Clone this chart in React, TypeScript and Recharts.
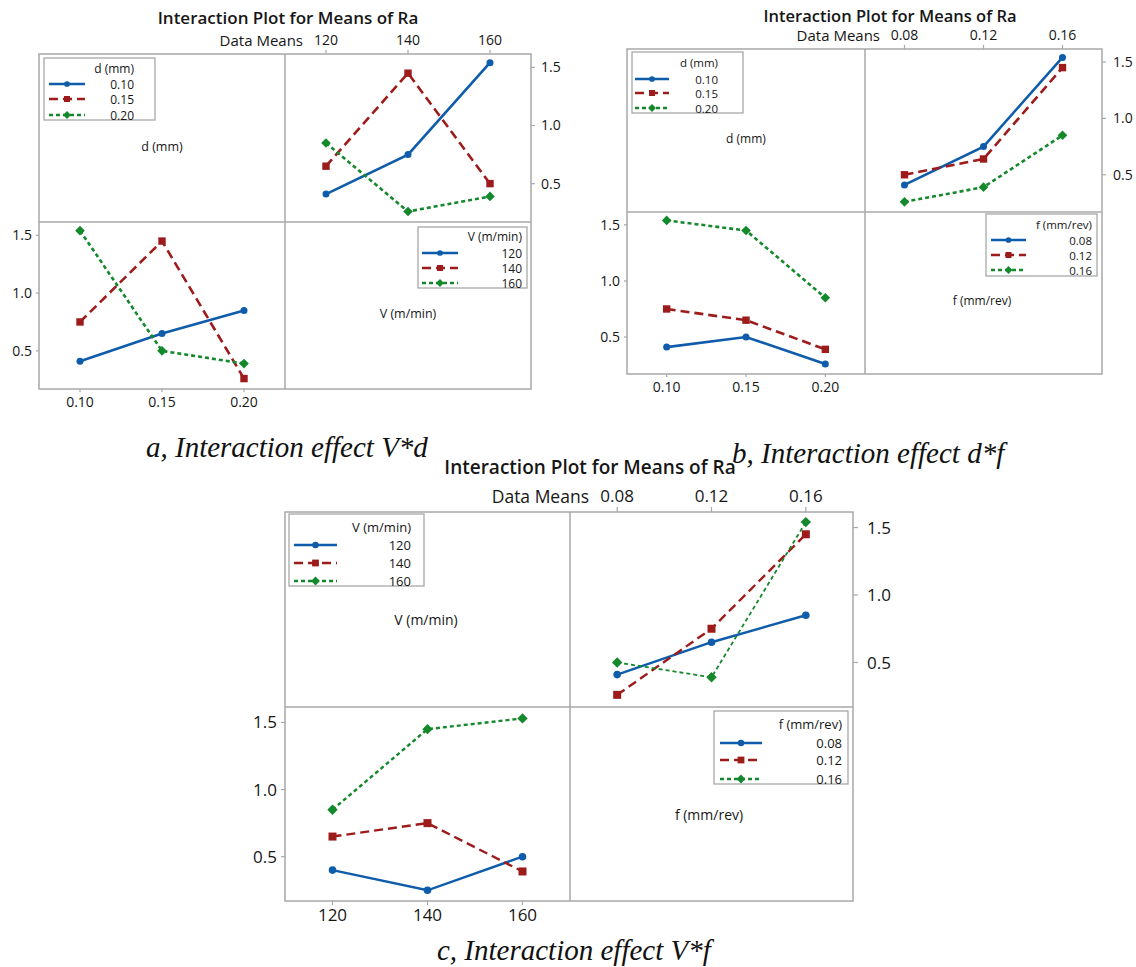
import React from 'react';
import { LineChart, Line, XAxis, YAxis } from 'recharts';

// ---------- factor levels & tick labels ----------
const V_LEVELS = [120, 140, 160];
const D_LEVELS = [0.1, 0.15, 0.2];
const F_LEVELS = [0.08, 0.12, 0.16];
const RA_TICKS = [0.5, 1.0, 1.5];

const V_NAMES = ['120', '140', '160'];
const D_NAMES = ['0.10', '0.15', '0.20'];
const F_NAMES = ['0.08', '0.12', '0.16'];

// ---------- (a) V*d ----------
// top-right: Ra vs V, one line per d
const aTop_d010 = [0.41, 0.75, 1.54];
const aTop_d015 = [0.65, 1.45, 0.5];
const aTop_d020 = [0.85, 0.26, 0.39];
// bottom-left: Ra vs d, one line per V
const aBot_V120 = [0.41, 0.65, 0.85];
const aBot_V140 = [0.75, 1.45, 0.26];
const aBot_V160 = [1.54, 0.5, 0.39];

// ---------- (b) d*f ----------
// top-right: Ra vs f, one line per d
const bTop_d010 = [0.41, 0.75, 1.54];
const bTop_d015 = [0.5, 0.64, 1.45];
const bTop_d020 = [0.26, 0.39, 0.85];
// bottom-left: Ra vs d, one line per f
const bBot_f008 = [0.41, 0.5, 0.26];
const bBot_f012 = [0.75, 0.65, 0.39];
const bBot_f016 = [1.54, 1.45, 0.85];

// ---------- (c) V*f ----------
// top-right: Ra vs f, one line per V
const cTop_V120 = [0.41, 0.65, 0.85];
const cTop_V140 = [0.26, 0.75, 1.45];
const cTop_V160 = [0.5, 0.39, 1.54];
// bottom-left: Ra vs V, one line per f
const cBot_f008 = [0.4, 0.25, 0.5];
const cBot_f012 = [0.65, 0.75, 0.39];
const cBot_f016 = [0.85, 1.45, 1.53];

// ---------- styles ----------
const SANS = '"Open Sans", "Noto Sans", sans-serif';
const SERIF = '"Liberation Serif", "DejaVu Serif", serif';
const FRAME = '#a8a8a8';
const TEXT = '#161616';
const Y_DOMAIN: [number, number] = [0.17, 1.615];

const STYLES = [
  { color: '#0f5cab', dash: undefined as string | undefined, marker: 'circle' },
  { color: '#9d1b1b', dash: '9 5', marker: 'square' },
  { color: '#13892b', dash: '4 3', marker: 'diamond' },
];

const fmt2 = (v: number) => v.toFixed(2);
const fmt0 = (v: number) => v.toFixed(0);
const fmt1 = (v: number) => v.toFixed(1);

function marker(kind: string, cx: number, cy: number, color: string, s: number, key: string) {
  if (kind === 'circle') return <circle key={key} cx={cx} cy={cy} r={s * 0.95} fill={color} />;
  if (kind === 'square')
    return <rect key={key} x={cx - s} y={cy - s} width={2 * s} height={2 * s} fill={color} />;
  const d = s * 1.3;
  return (
    <polygon
      key={key}
      points={`${cx},${cy - d} ${cx + d},${cy} ${cx},${cy + d} ${cx - d},${cy}`}
      fill={color}
    />
  );
}

type PanelProps = {
  kind: 'tr' | 'bl';
  box: [number, number, number, number]; // left, top, right, bottom
  xs: number[];
  xDomain: [number, number];
  xFmt: (v: number) => string;
  series: number[][];
  font: number;
  xTick: [number, number]; // size, margin
  yTick: [number, number];
  lw: number;
  ms: number;
  greenW?: number;
};

function Panel(p: PanelProps) {
  const [L, T, R, B] = p.box;
  const axH = 34;
  const axW = 46;
  const w = R - L + axW;
  const h = B - T + axH;
  const left = p.kind === 'tr' ? L : L - axW;
  const top = p.kind === 'tr' ? T - axH : T;
  const rows = p.xs.map((x, i) => {
    const r: Record<string, number> = { x };
    p.series.forEach((s, j) => (r['s' + j] = s[i]));
    return r;
  });
  const tickStyle = { fill: TEXT, fontSize: p.font, fontFamily: SANS, fontWeight: 500 };
  return (
    <div style={{ position: 'absolute', left, top, width: w, height: h }}>
      <LineChart width={w} height={h} data={rows} margin={{ top: 0, right: 0, bottom: 0, left: 0 }}>
        <XAxis
          dataKey="x"
          type="number"
          domain={p.xDomain}
          ticks={p.xs}
          interval={0}
          tickFormatter={p.xFmt}
          orientation={p.kind === 'tr' ? 'top' : 'bottom'}
          height={axH}
          axisLine={false}
          tickLine={{ stroke: FRAME, strokeWidth: 1.2 }}
          tickSize={p.xTick[0]}
          tickMargin={p.xTick[1]}
          tick={tickStyle}
          allowDataOverflow
        />
        <YAxis
          type="number"
          domain={Y_DOMAIN}
          ticks={RA_TICKS}
          interval={0}
          tickFormatter={fmt1}
          orientation={p.kind === 'tr' ? 'right' : 'left'}
          width={axW}
          axisLine={false}
          tickLine={{ stroke: FRAME, strokeWidth: 1.2 }}
          tickSize={p.yTick[0]}
          tickMargin={p.yTick[1]}
          tick={tickStyle}
          allowDataOverflow
        />
        {p.series.map((_, j) => {
          const st = STYLES[j];
          return (
            <Line
              key={'s' + j}
              dataKey={'s' + j}
              type="linear"
              stroke={st.color}
              strokeWidth={j === 2 && p.greenW ? p.greenW : p.lw}
              strokeDasharray={st.dash}
              isAnimationActive={false}
              activeDot={false}
              dot={(dp: any) => marker(st.marker, dp.cx, dp.cy, st.color, p.ms, `m${j}-${dp.index}`)}
            />
          );
        })}
      </LineChart>
    </div>
  );
}

function Frame({ L, T, Mx, My, R, B }: { L: number; T: number; Mx: number; My: number; R: number; B: number }) {
  const line = (x1: number, y1: number, x2: number, y2: number, k: string) => (
    <line key={k} x1={x1} y1={y1} x2={x2} y2={y2} stroke={FRAME} strokeWidth={1.5} />
  );
  return (
    <g>
      <rect x={L} y={T} width={R - L} height={B - T} fill="none" stroke={FRAME} strokeWidth={1.5} />
      {line(Mx, T, Mx, B, 'v')}
      {line(L, My, R, My, 'h')}
    </g>
  );
}

type LegendProps = {
  box: [number, number, number, number];
  title: string;
  titleY: number;
  rowYs: number[];
  sx: [number, number];
  valueRight: number;
  names: string[];
  font: number;
  lw: number;
  ms: number;
};

function LegendBox(p: LegendProps) {
  const [x1, y1, x2, y2] = p.box;
  return (
    <g>
      <rect x={x1} y={y1} width={x2 - x1} height={y2 - y1} fill="#fff" stroke={FRAME} strokeWidth={1.3} />
      <text x={p.valueRight} y={p.titleY} textAnchor="end" dominantBaseline="central" fontSize={p.font} fontWeight={500} fontFamily={SANS} fill={TEXT}>
        {p.title}
      </text>
      {p.names.map((n, i) => {
        const st = STYLES[i];
        const y = p.rowYs[i];
        const cx = (p.sx[0] + p.sx[1]) / 2;
        return (
          <g key={n}>
            <line x1={p.sx[0]} y1={y} x2={p.sx[1]} y2={y} stroke={st.color} strokeWidth={p.lw} strokeDasharray={st.dash} />
            {marker(st.marker, cx, y, st.color, p.ms, 'lm' + i)}
            <text x={p.valueRight} y={y} textAnchor="end" dominantBaseline="central" fontSize={p.font} fontWeight={500} fontFamily={SANS} fill={TEXT}>
              {n}
            </text>
          </g>
        );
      })}
    </g>
  );
}

function Title({ cx, y, dmRight, dmY, size, dmSize }: { cx: number; y: number; dmRight: number; dmY: number; size: number; dmSize: number }) {
  return (
    <g>
      <text x={cx} y={y} textAnchor="middle" dominantBaseline="central" fontSize={size} fontWeight={600} fontFamily={SANS} fill={TEXT}>
        Interaction Plot for Means of Ra
      </text>
      <text x={dmRight} y={dmY} textAnchor="end" dominantBaseline="central" fontSize={dmSize} fontWeight={500} fontFamily={SANS} fill={TEXT}>
        Data Means
      </text>
    </g>
  );
}

function Label({ x, y, text, size }: { x: number; y: number; text: string; size: number }) {
  return (
    <text x={x} y={y} textAnchor="middle" dominantBaseline="central" fontSize={size} fontWeight={500} fontFamily={SANS} fill={TEXT}>
      {text}
    </text>
  );
}

function Caption({ x, y, text }: { x: number; y: number; text: string }) {
  return (
    <text x={x} y={y} fontSize={29} fontStyle="italic" fontFamily={SERIF} fill="#111">
      {text}
    </text>
  );
}

export default function App() {
  return (
    <div style={{ position: 'absolute', left: 0, top: 0, width: 1136, height: 967, background: '#fff', overflow: 'hidden' }}>
      {/* frames (behind) */}
      <svg width={1136} height={967} style={{ position: 'absolute', left: 0, top: 0 }}>
        <Frame L={39} T={54} Mx={285} My={222} R={531} B={389} />
        <Frame L={627} T={49} Mx={865} My={212} R={1102} B={374} />
        <Frame L={285} T={512} Mx={570} My={707} R={853} B={901} />
      </svg>

      {/* (a) V*d */}
      <Panel kind="tr" box={[285, 54, 531, 222]} xs={V_LEVELS} xDomain={[110, 170]} xFmt={fmt0}
        series={[aTop_d010, aTop_d015, aTop_d020]} font={14} xTick={[4, 5]} yTick={[4, 6]} lw={2.6} ms={3.7} />
      <Panel kind="bl" box={[39, 222, 285, 389]} xs={D_LEVELS} xDomain={[0.075, 0.225]} xFmt={fmt2}
        series={[aBot_V120, aBot_V140, aBot_V160]} font={14} xTick={[3, 5]} yTick={[3, 4]} lw={2.6} ms={3.7} />

      {/* (b) d*f */}
      <Panel kind="tr" box={[865, 49, 1102, 212]} xs={F_LEVELS} xDomain={[0.06, 0.18]} xFmt={fmt2}
        series={[bTop_d010, bTop_d015, bTop_d020]} font={14} xTick={[4, 5]} yTick={[4, 7]} lw={2.6} ms={3.7} />
      <Panel kind="bl" box={[627, 212, 865, 374]} xs={D_LEVELS} xDomain={[0.075, 0.225]} xFmt={fmt2}
        series={[bBot_f008, bBot_f012, bBot_f016]} font={14} xTick={[3, 5]} yTick={[3, 4]} lw={2.6} ms={3.7} />

      {/* (c) V*f */}
      <Panel kind="tr" box={[570, 512, 853, 707]} xs={F_LEVELS} xDomain={[0.06, 0.18]} xFmt={fmt2}
        series={[cTop_V120, cTop_V140, cTop_V160]} font={17} xTick={[5, 5]} yTick={[5, 9]} lw={2.4} ms={4} greenW={1.8} />
      <Panel kind="bl" box={[285, 707, 570, 901]} xs={V_LEVELS} xDomain={[110, 170]} xFmt={fmt0}
        series={[cBot_f008, cBot_f012, cBot_f016]} font={17} xTick={[4, 4]} yTick={[4, 4]} lw={2.4} ms={4} greenW={2.4} />

      {/* texts & legends (on top) */}
      <svg width={1136} height={967} style={{ position: 'absolute', left: 0, top: 0, pointerEvents: 'none' }}>
        <Title cx={288} y={17} dmRight={303} dmY={40} size={17} dmSize={15} />
        <Title cx={890} y={15} dmRight={880} dmY={35} size={16.5} dmSize={15} />
        <Title cx={590} y={467} dmRight={589} dmY={496} size={19} dmSize={17.5} />

        <LegendBox box={[44, 58, 155, 120]} title="d (mm)" titleY={68} rowYs={[84, 99, 115]} sx={[49, 85]} valueRight={134}
          names={D_NAMES} font={12} lw={2.4} ms={3} />
        <LegendBox box={[418, 227, 527, 288]} title="V (m/min)" titleY={236} rowYs={[253, 268, 283]} sx={[422, 458]} valueRight={522}
          names={V_NAMES} font={12} lw={2.4} ms={3} />
        <Label x={162} y={146} text="d (mm)" size={12.5} />
        <Label x={408} y={313} text="V (m/min)" size={12.5} />

        <LegendBox box={[632, 52, 743, 113]} title="d (mm)" titleY={62} rowYs={[79, 93, 108]} sx={[635, 669]} valueRight={718}
          names={D_NAMES} font={11.5} lw={2.4} ms={3} />
        <LegendBox box={[986, 214, 1097, 276]} title="f (mm/rev)" titleY={224} rowYs={[240, 255, 270]} sx={[991, 1026]} valueRight={1092}
          names={F_NAMES} font={11.5} lw={2.4} ms={3} />
        <Label x={746} y={138} text="d (mm)" size={12} />
        <Label x={982} y={300} text="f (mm/rev)" size={12} />

        <LegendBox box={[289, 514, 424, 586]} title="V (m/min)" titleY={527} rowYs={[545, 563, 581]} sx={[294, 337]} valueRight={411}
          names={V_NAMES} font={13} lw={2.6} ms={3.4} />
        <LegendBox box={[714, 711, 848, 784]} title="f (mm/rev)" titleY={724} rowYs={[743, 760, 779]} sx={[720, 762]} valueRight={842}
          names={F_NAMES} font={13} lw={2.6} ms={3.4} />
        <Label x={426} y={619} text="V (m/min)" size={14} />
        <Label x={709} y={814} text="f (mm/rev)" size={14} />

        <Caption x={146} y={457} text="a, Interaction effect V*d" />
        <Caption x={732} y={463} text="b, Interaction effect d*f" />
        <Caption x={437} y={960} text="c, Interaction effect V*f" />
      </svg>
    </div>
  );
}
